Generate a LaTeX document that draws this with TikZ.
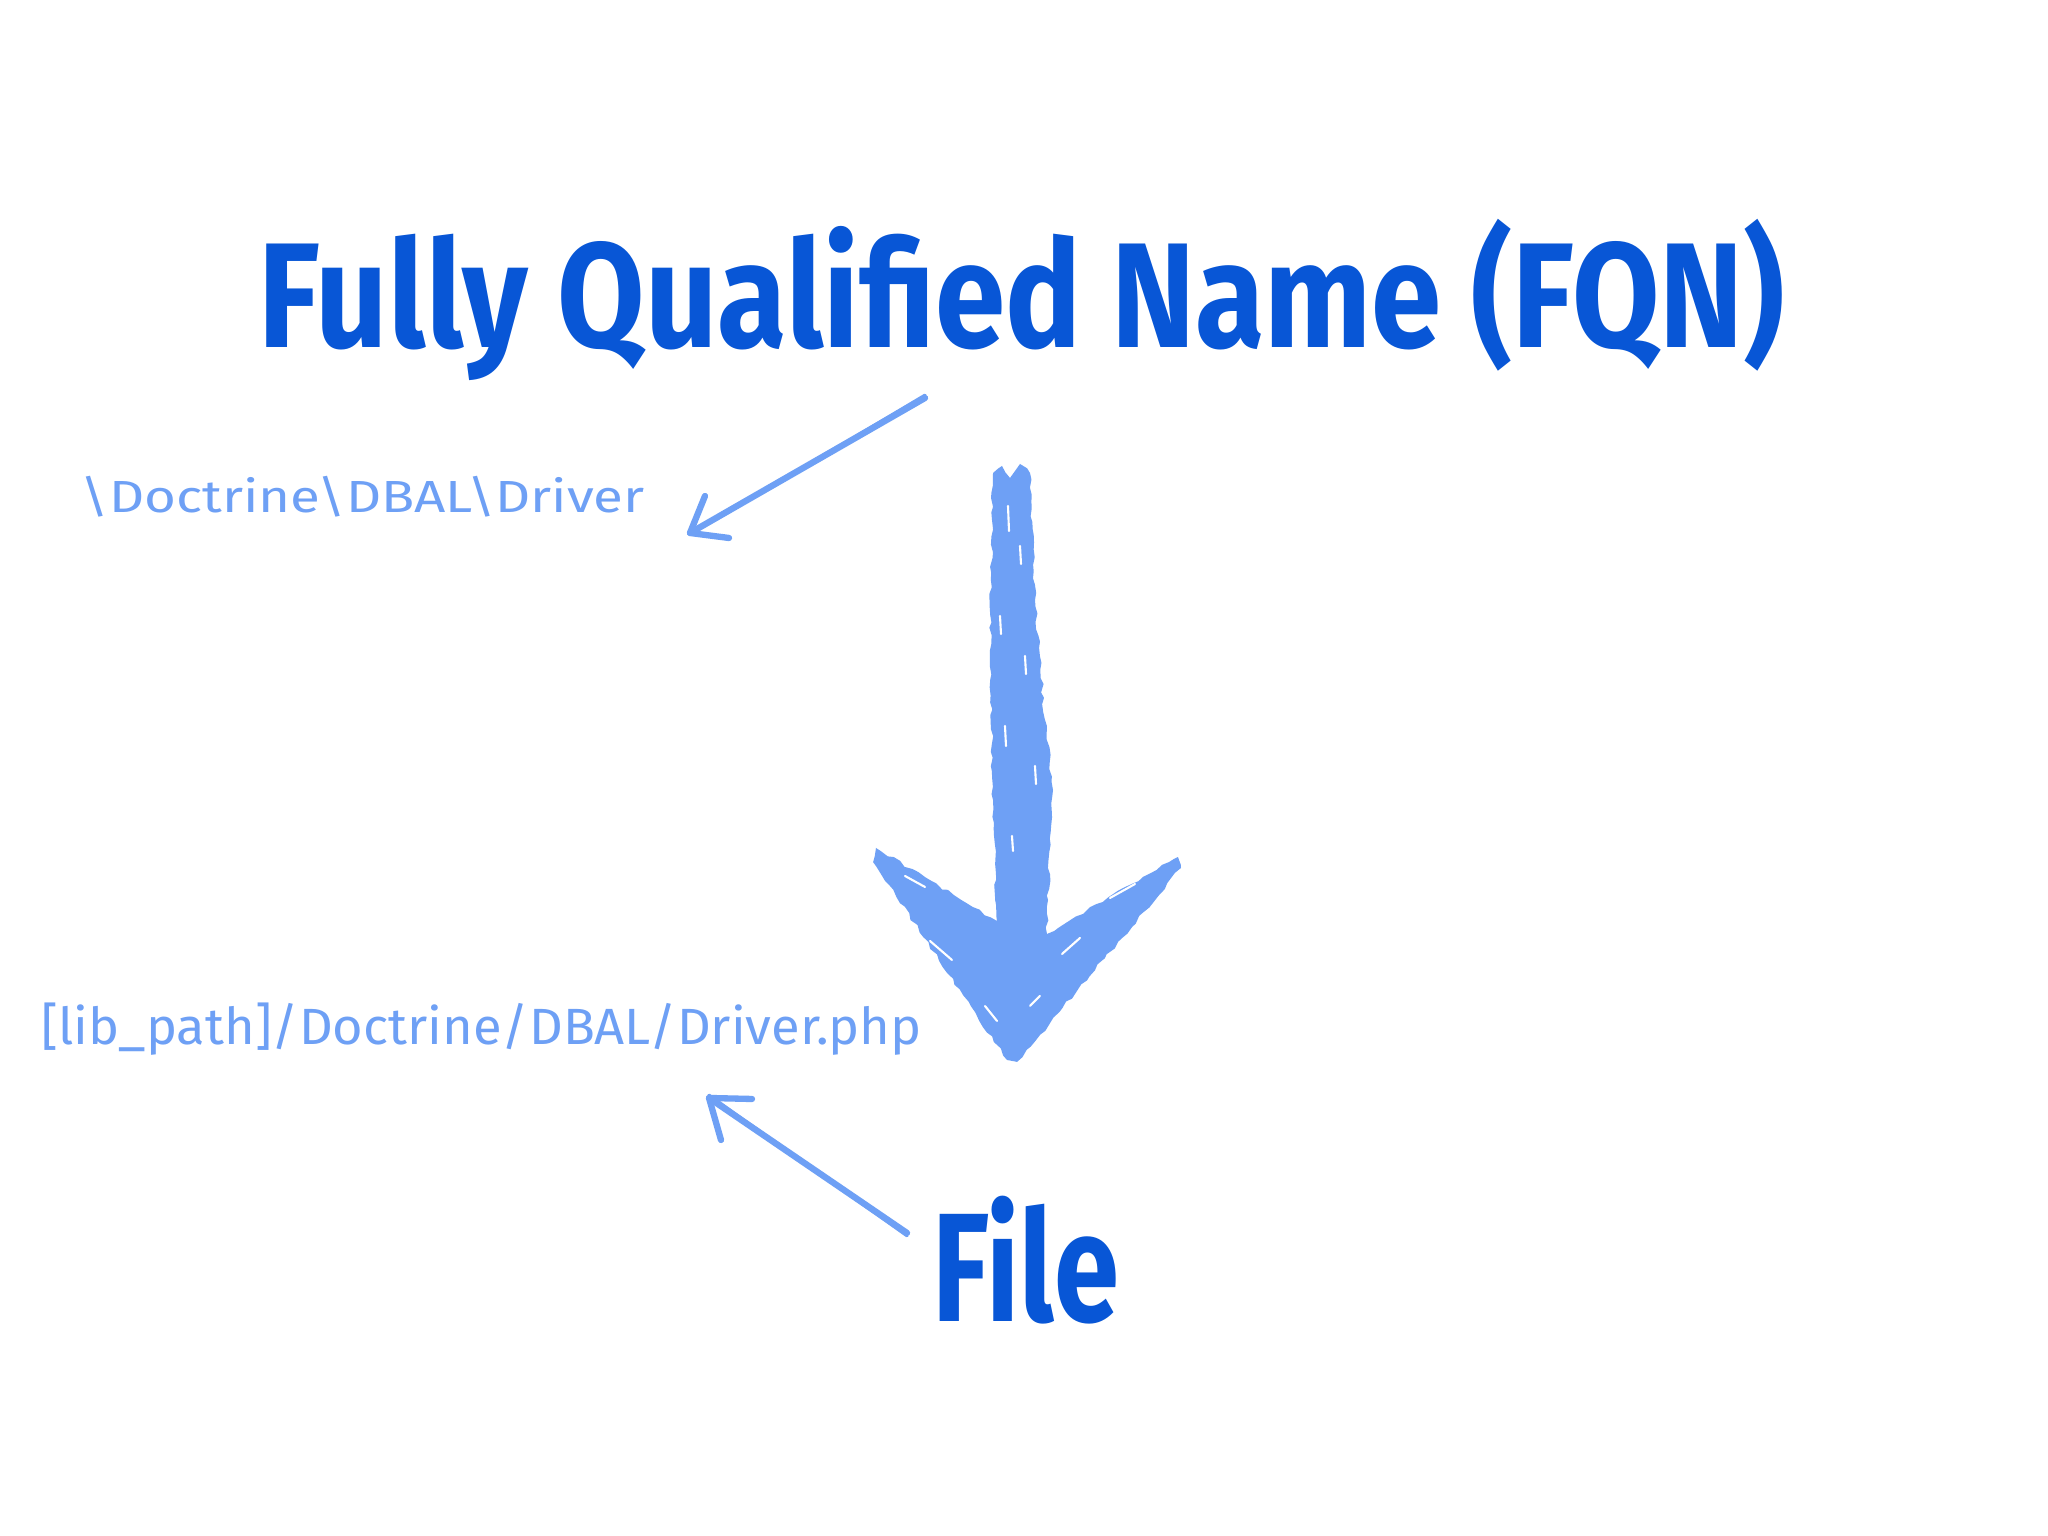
\documentclass[tikz,border=0pt]{standalone}
\usepackage{fontspec}
\setmainfont{Fira Sans}
\usepackage{graphicx}
\usetikzlibrary{decorations.pathmorphing}
\definecolor{darkblue}{RGB}{8,86,214}
\definecolor{lightblue}{RGB}{110,160,245}
\tikzset{
  titletext/.style={text=darkblue, inner sep=0pt, anchor=base west, font=\bfseries},
  handtext/.style={text=lightblue, inner sep=0pt, anchor=base west},
  sketchline/.style={draw=lightblue, line width=1.8pt, line cap=round, line join=round},
  scratch/.style={draw=white, line width=0.6pt, line cap=round}
}
\begin{document}
\begin{tikzpicture}[x=1cm,y=1cm]
\pgfmathsetseed{7}
\useasboundingbox (0,0) rectangle (20.48,15.36);
\fill[white] (0,0) rectangle (20.48,15.36);

% texts
\node[titletext] (fqn) at (2.58,11.88) {\resizebox{15.26cm}{\height}{\fontsize{42.5}{50}\selectfont Fully Qualified Name (FQN)}};
\node[handtext] (ns) at (0.80,10.23) {\resizebox{5.64cm}{\height}{\fontsize{12.8}{15}\selectfont\textbackslash Doctrine\textbackslash DBAL\textbackslash Driver}};
\node[handtext] (path) at (0.41,4.91) {\resizebox{8.8cm}{\height}{\fontsize{14.5}{17}\selectfont [lib\_path]/Doctrine/DBAL/Driver.php}};
\node[titletext] (file) at (9.32,2.14) {\resizebox{1.86cm}{\height}{\fontsize{44}{50}\selectfont File}};

% arrow 1 (FQN -> namespace)
\coordinate (a1s) at (9.25,11.38);
\coordinate (a1t) at (6.90,10.03);
\coordinate (a1b1) at (7.05,10.40);
\coordinate (a1b2) at (7.29,9.98);
\draw[sketchline] (a1s) -- (a1t);
\draw[sketchline, line width=0.9pt] ([yshift=0.8pt]a1s) -- ([xshift=0.8pt]a1t);
\draw[sketchline] (a1b1) -- (a1t) -- (a1b2);

% arrow 2 (File -> path)
\coordinate (a2s) at (9.07,3.03);
\coordinate (a2t) at (7.09,4.38);
\coordinate (a2b1) at (7.52,4.37);
\coordinate (a2b2) at (7.21,3.96);
\draw[sketchline] (a2s) -- (a2t);
\draw[sketchline, line width=0.9pt] ([yshift=-0.8pt]a2s) -- ([yshift=0.8pt]a2t);
\draw[sketchline] (a2b1) -- (a2t) -- (a2b2);

% big sketchy arrow
\fill[lightblue, decorate, decoration={random steps, segment length=2pt, amplitude=0.45pt}]
  (9.93,10.63) -- (10.02,10.70) -- (10.10,10.58) -- (10.20,10.72) -- (10.30,10.63)
  -- (10.35,9.36) -- (10.45,8.16) -- (10.53,7.46) -- (10.48,6.36) -- (10.47,6.02)
  -- (11.78,6.79) -- (11.81,6.68) -- (10.17,4.74) -- (10.07,4.76)
  -- (8.73,6.74) -- (8.76,6.88) -- (9.97,6.15)
  -- (9.93,7.36) -- (9.90,8.86) -- (9.92,10.16) -- cycle;
% texture scratches
\draw[scratch] (10.08,10.30) -- (10.09,10.05);
\draw[scratch] (10.20,9.90) -- (10.21,9.72);
\draw[scratch] (10.00,9.20) -- (10.01,9.02);
\draw[scratch] (10.25,8.80) -- (10.26,8.62);
\draw[scratch] (10.05,8.10) -- (10.06,7.90);
\draw[scratch] (10.35,7.70) -- (10.36,7.52);
\draw[scratch] (10.12,7.00) -- (10.13,6.85);
\draw[scratch] (9.05,6.60) -- (9.25,6.49);
\draw[scratch] (9.30,5.95) -- (9.52,5.76);
\draw[scratch] (9.85,5.30) -- (9.97,5.15);
\draw[scratch] (11.10,6.38) -- (11.35,6.52);
\draw[scratch] (10.62,5.82) -- (10.80,5.98);
\draw[scratch] (10.30,5.30) -- (10.40,5.40);
\end{tikzpicture}
\end{document}
